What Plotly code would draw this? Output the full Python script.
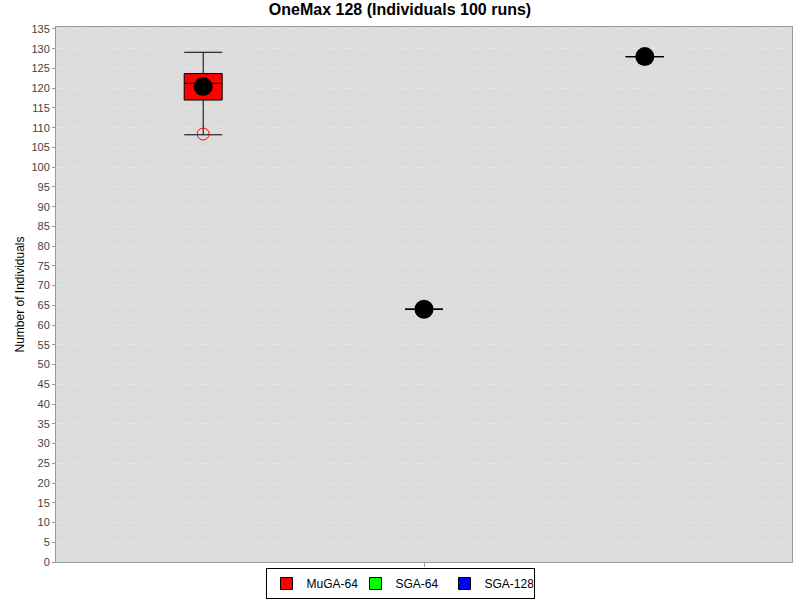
import plotly.graph_objects as go

category = ["OneMax 128"]
series = ["MuGA-64", "SGA-64", "SGA-128"]
colors = ["#FF0000", "#00FF00", "#0000FF"]
q1 = [117.0, 64, 128]
median = [121.25, 64, 128]
q3 = [123.7, 64, 128]
lower = [108.2, 64, 128]
upper = [129.1, 64, 128]
means = [120.4, 64, 128]
outliers = [[108.4], [], []]

fig = go.Figure()
for i, s in enumerate(series):
    fig.add_trace(go.Box(
        name=s, x=category, q1=[q1[i]], median=[median[i]], q3=[q3[i]],
        lowerfence=[lower[i]], upperfence=[upper[i]],
        fillcolor=colors[i], line=dict(color="black", width=1),
        offsetgroup=s, showlegend=True, hoverinfo="skip", whiskerwidth=1,
    ))
for i, s in enumerate(series):
    ys = [means[i]] + outliers[i]
    fig.add_trace(go.Scatter(
        x=category * len(ys), y=ys, mode="markers", offsetgroup=s,
        orientation="v", showlegend=False, hoverinfo="skip",
        marker=dict(
            size=[19] + [12] * len(outliers[i]),
            symbol=["circle"] + ["circle-open"] * len(outliers[i]),
            color=["black"] + ["red"] * len(outliers[i]),
            line=dict(width=[0] + [1] * len(outliers[i]), color="red"),
            opacity=1,
        ),
    ))

fig.update_layout(
    width=800, height=600,
    paper_bgcolor="white", plot_bgcolor="#DCDCDC",
    margin=dict(l=56, r=8, t=27, b=38, autoexpand=False),
    font=dict(family="Liberation Sans, Arial", size=12, color="#444"),
    title=dict(text="<b>OneMax 128 (Individuals 100 runs)</b>", x=0.5, xref="container",
               y=1 - 4 / 600, yref="container", yanchor="top",
               font=dict(size=16, color="black")),
    boxmode="group", boxgap=0.1, boxgroupgap=0.828,
    scattermode="group", scattergap=0.1,
    legend=dict(orientation="h", xref="container", yref="container", x=0.5, xanchor="center",
                y=1 / 600, yanchor="bottom", bordercolor="black", borderwidth=1,
                font=dict(size=12, color="black"), itemwidth=30, bgcolor="white",
                tracegroupgap=0, entrywidth=44),
)
fig.update_xaxes(type="category", range=[-0.5, 0.5], showticklabels=False,
                 ticks="outside", ticklen=4, tickcolor="#999",
                 showgrid=False, showline=True, linecolor="#999", mirror=True, zeroline=False)
fig.update_yaxes(range=[0, 135.5], dtick=5, tick0=0, ticks="outside", ticklen=3, tickcolor="#999",
                 showgrid=True, gridcolor="#E4E4E4", griddash="dash", gridwidth=1,
                 showline=True, linecolor="#999", mirror=True, zeroline=False,
                 tickfont=dict(size=11, color="#444"),
                 title=dict(text="Number of Individuals", font=dict(size=12, color="black"), standoff=4))
fig.write_html("out.html")
